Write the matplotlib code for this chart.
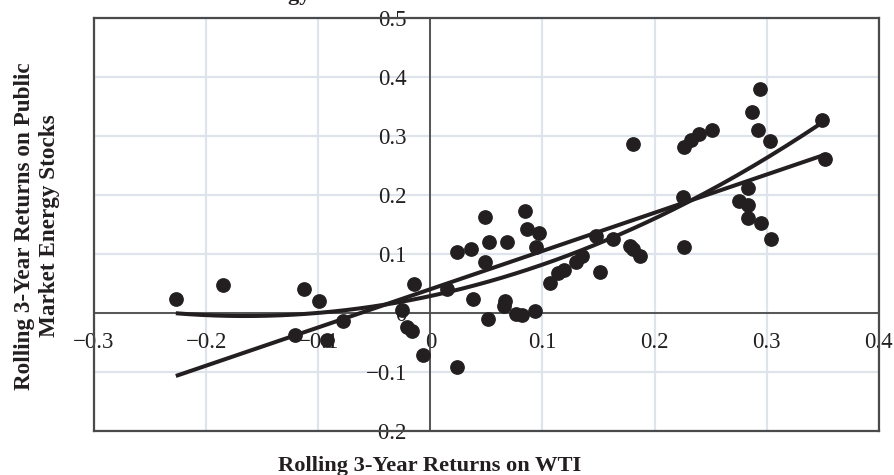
import numpy as np
import matplotlib
matplotlib.use("Agg")
import matplotlib.pyplot as plt

plt.rcParams['font.family'] = ['Liberation Serif', 'DejaVu Serif']

# rolling 3-year returns
wti = [-0.227, -0.185, -0.113, -0.099, -0.121, -0.092, -0.078, -0.025, -0.015, -0.021, -0.016, -0.007,
       0.015, 0.024, 0.024, 0.036, 0.049, 0.052, 0.068, 0.049, 0.038, 0.051, 0.067, 0.066, 0.076, 0.082,
       0.093, 0.084, 0.086, 0.097, 0.094, 0.107, 0.114, 0.119, 0.130, 0.135, 0.151, 0.148, 0.163, 0.178,
       0.181, 0.187, 0.181,
       0.226, 0.225, 0.226, 0.232, 0.240, 0.251, 0.294, 0.287, 0.292, 0.303, 0.349, 0.352, 0.283, 0.275,
       0.283, 0.283, 0.295, 0.304]
energy = [0.023, 0.047, 0.040, 0.020, -0.037, -0.046, -0.013, 0.005, 0.049, -0.023, -0.030, -0.071,
          0.041, -0.091, 0.104, 0.108, 0.162, 0.121, 0.121, 0.087, 0.024, -0.011, 0.020, 0.012, -0.001, -0.003,
          0.003, 0.172, 0.142, 0.136, 0.111, 0.050, 0.068, 0.073, 0.086, 0.097, 0.070, 0.130, 0.125, 0.114,
          0.108, 0.097, 0.286,
          0.111, 0.197, 0.281, 0.293, 0.303, 0.310, 0.380, 0.340, 0.310, 0.292, 0.326, 0.260, 0.212, 0.190,
          0.183, 0.160, 0.153, 0.125]

x_ticks = [-0.3, -0.2, -0.1, 0, 0.1, 0.2, 0.3, 0.4]
y_ticks = [-0.2, -0.1, 0, 0.1, 0.2, 0.3, 0.4, 0.5]

x = np.array(wti)
y = np.array(energy)

fig = plt.figure(figsize=(8.95, 4.75), dpi=100)
pos = [0.105, 0.0926, 0.877, 0.870]
ax = fig.add_axes(pos)

ax.set_xlim(-0.3, 0.4)
ax.set_ylim(-0.2, 0.5)
ax.set_xticks(x_ticks)
ax.set_yticks(y_ticks)
ax.set_xticklabels(["\u22120.3", "\u22120.2", "\u22120.1", "0", "0.1", "0.2", "0.3", "0.4"])
ax.set_yticklabels(["\u22120.2", "\u22120.1", "0", "0.1", "0.2", "0.3", "0.4", "0.5"])
ax.grid(True, color='#dfe4ec', linewidth=1.6, zorder=0)
ax.set_axisbelow(True)

ax.spines['left'].set_position(('data', 0))
ax.spines['bottom'].set_position(('data', 0))
for s in ['top', 'right']:
    ax.spines[s].set_visible(False)
for s in ['left', 'bottom']:
    ax.spines[s].set_color('#4a4a4a')
    ax.spines[s].set_linewidth(1.3)
ax.tick_params(axis='both', length=0, labelsize=16.5, colors='#231f20')
ax.tick_params(axis='x', pad=14)
ax.tick_params(axis='y', pad=17)
for lab in ax.get_xticklabels() + ax.get_yticklabels():
    lab.set_clip_on(False)

# fits
xs = np.linspace(x.min(), x.max(), 200)
lin = np.polyfit(x, y, 1)
quad = np.polyfit(x, y, 2)
ax.plot(xs, np.polyval(lin, xs), color='#231f20', lw=2.9, zorder=3, solid_capstyle='butt')
ax.plot(xs, np.polyval(quad, xs), color='#231f20', lw=2.9, zorder=3, solid_capstyle='butt')

ax.plot(x, y, 'o', color='#231f20', markersize=9.6, zorder=4)

# outer frame
frame = fig.add_axes(pos, facecolor='none')
frame.set_xticks([])
frame.set_yticks([])
for s in frame.spines.values():
    s.set_color('#4a4a4a')
    s.set_linewidth(1.6)

fig.text(0.48, 0.008, "Rolling 3-Year Returns on WTI", ha='center', va='baseline',
         fontsize=16.2, fontweight='bold', color='#231f20')
fig.text(0.0415, 0.524, "Rolling 3-Year Returns on Public\nMarket Energy Stocks", ha='center', va='center',
         rotation=90, fontsize=16.7, fontweight='bold', color='#231f20', linespacing=1.22)
fig.text(0.347, 1.0, "Energy", ha='right', va='baseline', fontsize=16, fontweight='bold', color='#231f20')

fig.savefig("out.png", dpi=100)
